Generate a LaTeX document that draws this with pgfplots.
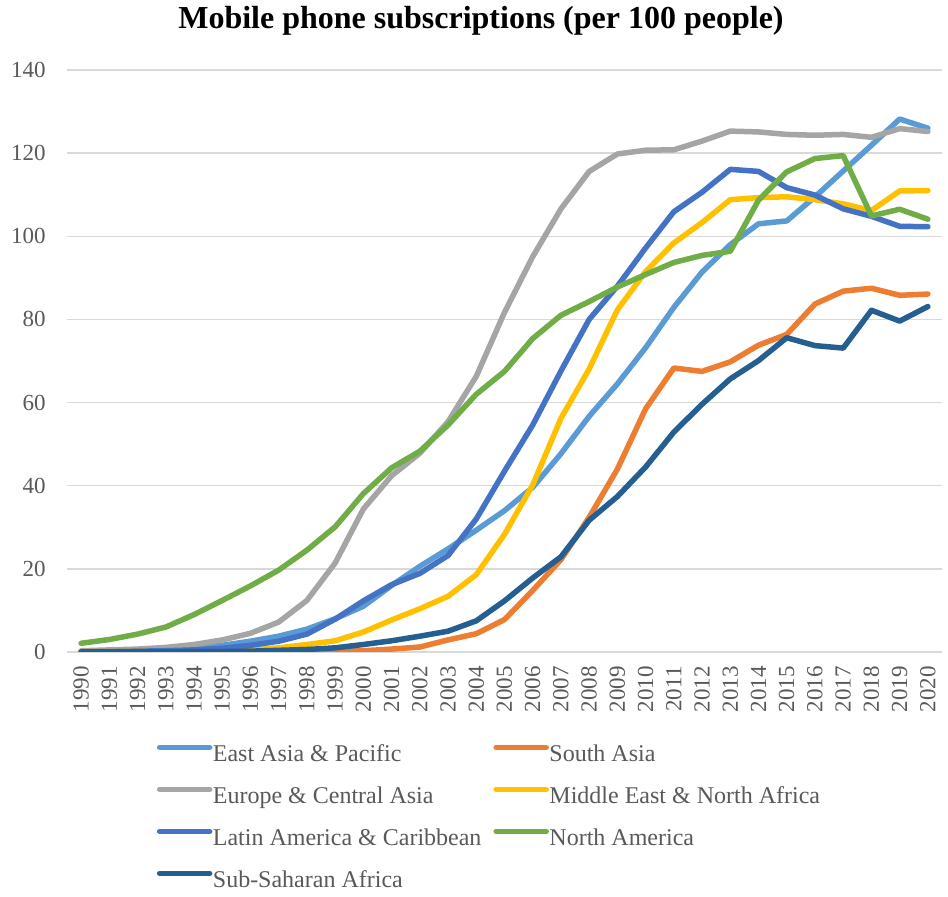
\documentclass[border=0pt]{standalone}
\usepackage{fontspec}
\setmainfont{Liberation Serif}
\usepackage{pgfplots}
\pgfplotsset{compat=1.18}
\usepackage{pgfplotstable}

\definecolor{eap}{HTML}{5B9BD5}
\definecolor{sas}{HTML}{ED7D31}
\definecolor{eca}{HTML}{A5A5A5}
\definecolor{mena}{HTML}{FFC000}
\definecolor{lac}{HTML}{4472C4}
\definecolor{nam}{HTML}{70AD47}
\definecolor{ssa}{HTML}{255E91}
\definecolor{txt}{HTML}{595959}
\definecolor{grd}{HTML}{D9D9D9}

% mobile subscriptions per 100 people, by region
\pgfplotstableread{
year eap   sa    eca   mena  lac   na    ssa
1990 0.1   0.0   0.3   0.1   0.0   2.1   0.0
1991 0.2   0.0   0.5   0.1   0.1   3.0   0.0
1992 0.3   0.0   0.7   0.2   0.2   4.3   0.0
1993 0.6   0.0   1.1   0.2   0.3   6.0   0.0
1994 1.0   0.0   1.8   0.3   0.5   9.0   0.1
1995 1.6   0.0   2.9   0.4   0.9   12.4  0.1
1996 2.6   0.0   4.5   0.6   1.6   15.9  0.2
1997 3.8   0.1   7.2   1.0   2.6   19.7  0.4
1998 5.5   0.1   12.4  1.8   4.3   24.5  0.6
1999 8.0   0.2   21.4  2.7   7.9   30.1  1.0
2000 11.0  0.3   34.4  4.8   12.3  38.1  1.8
2001 16.0  0.7   42.4  7.7   16.2  44.3  2.7
2002 20.6  1.2   47.8  10.4  18.9  48.3  3.8
2003 24.8  2.9   55.4  13.4  23.2  54.6  5.0
2004 29.3  4.4   66.3  18.6  32.0  62.0  7.5
2005 34.0  7.8   81.7  28.3  43.5  67.5  12.3
2006 39.6  14.8  95.1  40.2  54.6  75.4  17.8
2007 47.7  22.2  106.6 56.2  67.6  81.0  22.9
2008 56.7  32.4  115.6 68.1  80.0  84.3  31.7
2009 64.5  44.0  119.8 82.3  88.0  87.8  37.4
2010 73.2  58.5  120.7 91.5  97.2  90.8  44.5
2011 82.9  68.3  120.8 98.4  105.9 93.7  52.9
2012 91.4  67.5  122.9 103.3 110.6 95.4  59.6
2013 98.0  69.8  125.3 108.8 116.1 96.4  65.7
2014 103.0 73.8  125.1 109.3 115.6 108.7 70.1
2015 103.7 76.4  124.5 109.5 111.7 115.5 75.6
2016 109.5 83.7  124.3 108.8 109.9 118.7 73.7
2017 115.7 86.8  124.5 107.8 106.6 119.4 73.1
2018 121.9 87.5  123.8 106.2 104.8 104.9 82.2
2019 128.2 85.8  125.9 110.9 102.4 106.5 79.6
2020 126.0 86.1  125.2 111.0 102.3 104.1 83.1
}\mobile

\begin{document}
\begin{tikzpicture}
\path[use as bounding box] (-33.5pt,-122.5pt) rectangle (440.5pt,326pt);
\begin{axis}[
  name=ax, at={(0,0)}, anchor=south west,
  scale only axis, width=437.5pt, height=291pt,
  xmin=1989.5, xmax=2020.5, ymin=0, ymax=140,
  xtick={1990,...,2020}, ytick={0,20,...,140},
  axis line style={draw=none}, major tick length=0pt,
  ymajorgrids, major grid style={grd, line width=0.75pt},
  tick label style={font=\fontsize{11.5}{13}\selectfont, text=txt, inner sep=0pt},
  /pgf/number format/assume math mode=true,
  /pgf/number format/1000 sep={},
  x tick label style={rotate=90, anchor=east},
  xticklabel shift=7pt,
  yticklabel shift=10.5pt,
  every axis plot/.append style={line width=2.75pt, line join=round, line cap=round, mark=none},
  legend columns=2,
  legend cell align=left,
  legend style={at={(0.1023,0)}, anchor=north west, yshift=-45.5pt, draw=none, fill=none,
    inner sep=0pt, row sep=9pt, column sep=0.25pt,
    font=\fontsize{12}{14}\selectfont, text=txt,
    nodes={inner sep=0pt, text height=9pt, text depth=3pt, text=txt},
    /tikz/every even column/.append style={column sep=6pt}},
  legend image code/.code={\draw[#1] (0pt,4pt) -- (25pt,4pt);},
]
\addplot[eap]  table[x=year, y=eap]  {\mobile};
\addplot[sas]  table[x=year, y=sa]   {\mobile};
\addplot[eca]  table[x=year, y=eca]  {\mobile};
\addplot[mena] table[x=year, y=mena] {\mobile};
\addplot[lac]  table[x=year, y=lac]  {\mobile};
\addplot[nam]  table[x=year, y=na]   {\mobile};
\addplot[ssa]  table[x=year, y=ssa]  {\mobile};
\legend{East Asia \& Pacific, South Asia, Europe \& Central Asia, Middle East \& North Africa,
  Latin America \& Caribbean, North America, Sub-Saharan Africa}
\end{axis}
\node[anchor=base, inner sep=0pt, font=\bfseries\fontsize{16}{19}\selectfont]
  at ([xshift=-11.75pt, yshift=20.5pt]ax.north) {Mobile phone subscriptions (per 100 people)};
\end{tikzpicture}
\end{document}
